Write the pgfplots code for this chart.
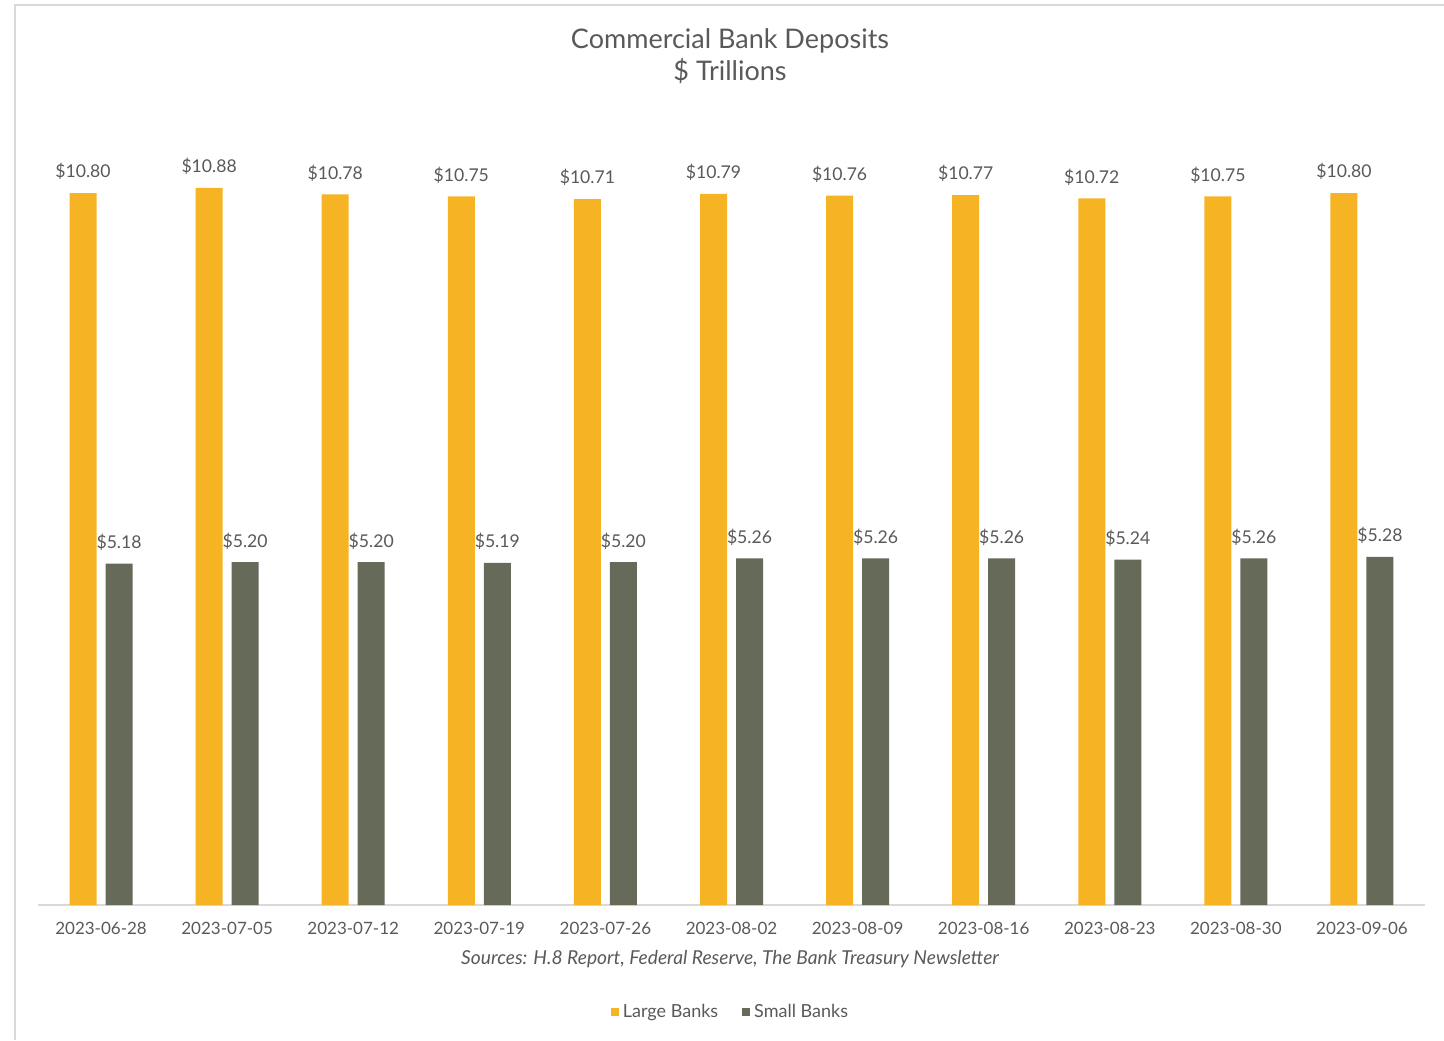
\documentclass[border=0pt]{standalone}
\usepackage{pgfplots}
\pgfplotsset{compat=1.18}
\usepackage{fontspec}
\setmainfont{Lato}
\definecolor{largec}{HTML}{F6B324}
\definecolor{smallc}{HTML}{656A59}
\definecolor{txt}{HTML}{595959}
\definecolor{frame}{HTML}{D9D9D9}
\begin{document}
\begin{tikzpicture}
\path[use as bounding box] (0,0) rectangle (722pt,520pt);
\draw[frame, line width=0.8pt] (7.5pt,0) -- (7.5pt,517.5pt) -- (722pt,517.5pt);
\begin{axis}[
  at={(19pt,67.5pt)}, anchor=south west,
  scale only axis, width=693.5pt, height=395.5pt,
  xmin=-0.5, xmax=10.5, ymin=0, ymax=12,
  axis x line*=bottom, axis y line=none,
  x axis line style={frame, line width=0.8pt},
  xtick={0,...,10}, major tick length=0pt,
  xticklabels={2023-06-28,2023-07-05,2023-07-12,2023-07-19,2023-07-26,2023-08-02,2023-08-09,2023-08-16,2023-08-23,2023-08-30,2023-09-06},
  xticklabel style={font=\fontsize{8.5}{10}\selectfont, text=txt, yshift=-5pt},
  ybar=4.5pt, bar width=13.5pt,
  nodes near coords={\$\pgfmathprintnumber[fixed,fixed zerofill,precision=2,assume math mode=true]{\pgfplotspointmeta}},
  every node near coord/.append style={font=\fontsize{8.8}{10}\selectfont, text=txt, yshift=3pt},
  legend columns=2,
  legend style={at={(0.5,0)}, anchor=center, yshift=-53.5pt, draw=none, fill=none,
    font=\fontsize{9}{10}\selectfont, text=txt,
    /tikz/every even column/.append style={column sep=10pt}},
  legend image code/.code={\fill[#1] (0pt,-2pt) rectangle (4pt,2pt);},
  clip=false,
]
\addplot[fill=largec, draw=none] coordinates {
(0,10.80) (1,10.88) (2,10.78) (3,10.75) (4,10.71) (5,10.79) (6,10.76) (7,10.77) (8,10.72) (9,10.75) (10,10.80)};
\addlegendentry{Large Banks}
\addplot[fill=smallc, draw=none] coordinates {
(0,5.18) (1,5.20) (2,5.20) (3,5.19) (4,5.20) (5,5.26) (6,5.26) (7,5.26) (8,5.24) (9,5.26) (10,5.28)};
\addlegendentry{Small Banks}
\end{axis}
\node[text=txt, font=\fontsize{13.5}{16}\selectfont, align=center] at (365pt,492pt) {Commercial Bank Deposits\\\$ Trillions};
\node[text=txt, font=\fontsize{9.6}{10}\selectfont\itshape] at (365pt,40.5pt) {Sources: H.8 Report, Federal Reserve, The Bank Treasury Newsletter};
\end{tikzpicture}
\end{document}
